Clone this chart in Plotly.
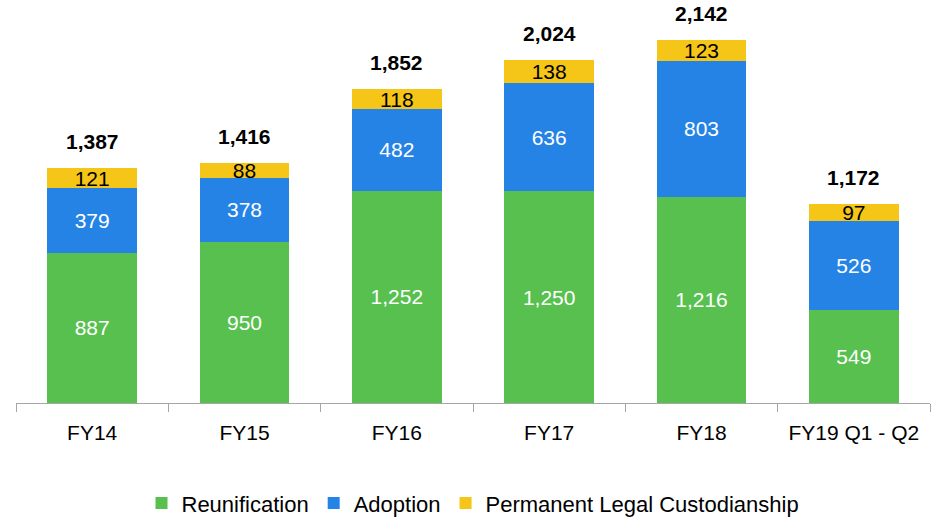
import plotly.graph_objects as go

# Permanency outcomes by fiscal year
categories = ["FY14", "FY15", "FY16", "FY17", "FY18", "FY19 Q1 - Q2"]
reunification = [887, 950, 1252, 1250, 1216, 549]
adoption = [379, 378, 482, 636, 803, 526]
custodianship = [121, 88, 118, 138, 123, 97]
totals = [1387, 1416, 1852, 2024, 2142, 1172]

series = [
    ("Reunification", reunification, "#58C04F", "white"),
    ("Adoption", adoption, "#2683E6", "white"),
    ("Permanent Legal Custodianship", custodianship, "#F5C518", "black"),
]

FONT = "Liberation Sans, Arial, sans-serif"

fig = go.Figure()
for name, vals, color, txtcolor in series:
    fig.add_trace(go.Bar(
        name=name,
        x=categories,
        y=vals,
        marker=dict(color=color, line=dict(width=0)),
        text=[f"{v:,}" for v in vals],
        textposition="inside",
        insidetextanchor="middle",
        textfont=dict(family=FONT, size=21, color=txtcolor),
        hoverinfo="skip",
    ))

# bold totals above each stack
for cat, tot in zip(categories, totals):
    fig.add_annotation(
        x=cat, y=tot, text=f"<b>{tot:,}</b>",
        showarrow=False, yanchor="bottom", yshift=13,
        font=dict(family=FONT, size=21, color="black"),
    )

fig.update_layout(
    barmode="stack",
    bargap=0.41,
    width=943,
    height=517,
    margin=dict(l=16, r=13, t=10, b=114, autoexpand=False),
    paper_bgcolor="white",
    plot_bgcolor="white",
    uniformtext=dict(minsize=21, mode="show"),
    font=dict(family=FONT, color="black"),
    legend=dict(
        orientation="h",
        x=0.5, xanchor="center",
        y=-0.255, yanchor="middle",
        font=dict(family=FONT, size=22, color="black"),
        traceorder="normal",
    ),
    xaxis=dict(
        type="category",
        automargin=False,
        showline=True, linecolor="#A6A6A6", linewidth=1,
        ticks="outside", tickson="boundaries", ticklen=8,
        tickcolor="#A6A6A6",
        ticklabelstandoff=11,
        tickfont=dict(family=FONT, size=21, color="black"),
        showgrid=False,
    ),
    yaxis=dict(
        range=[0, 2319],
        visible=False,
        showgrid=False,
        zeroline=False,
    ),
)

fig.write_html("out.html")
